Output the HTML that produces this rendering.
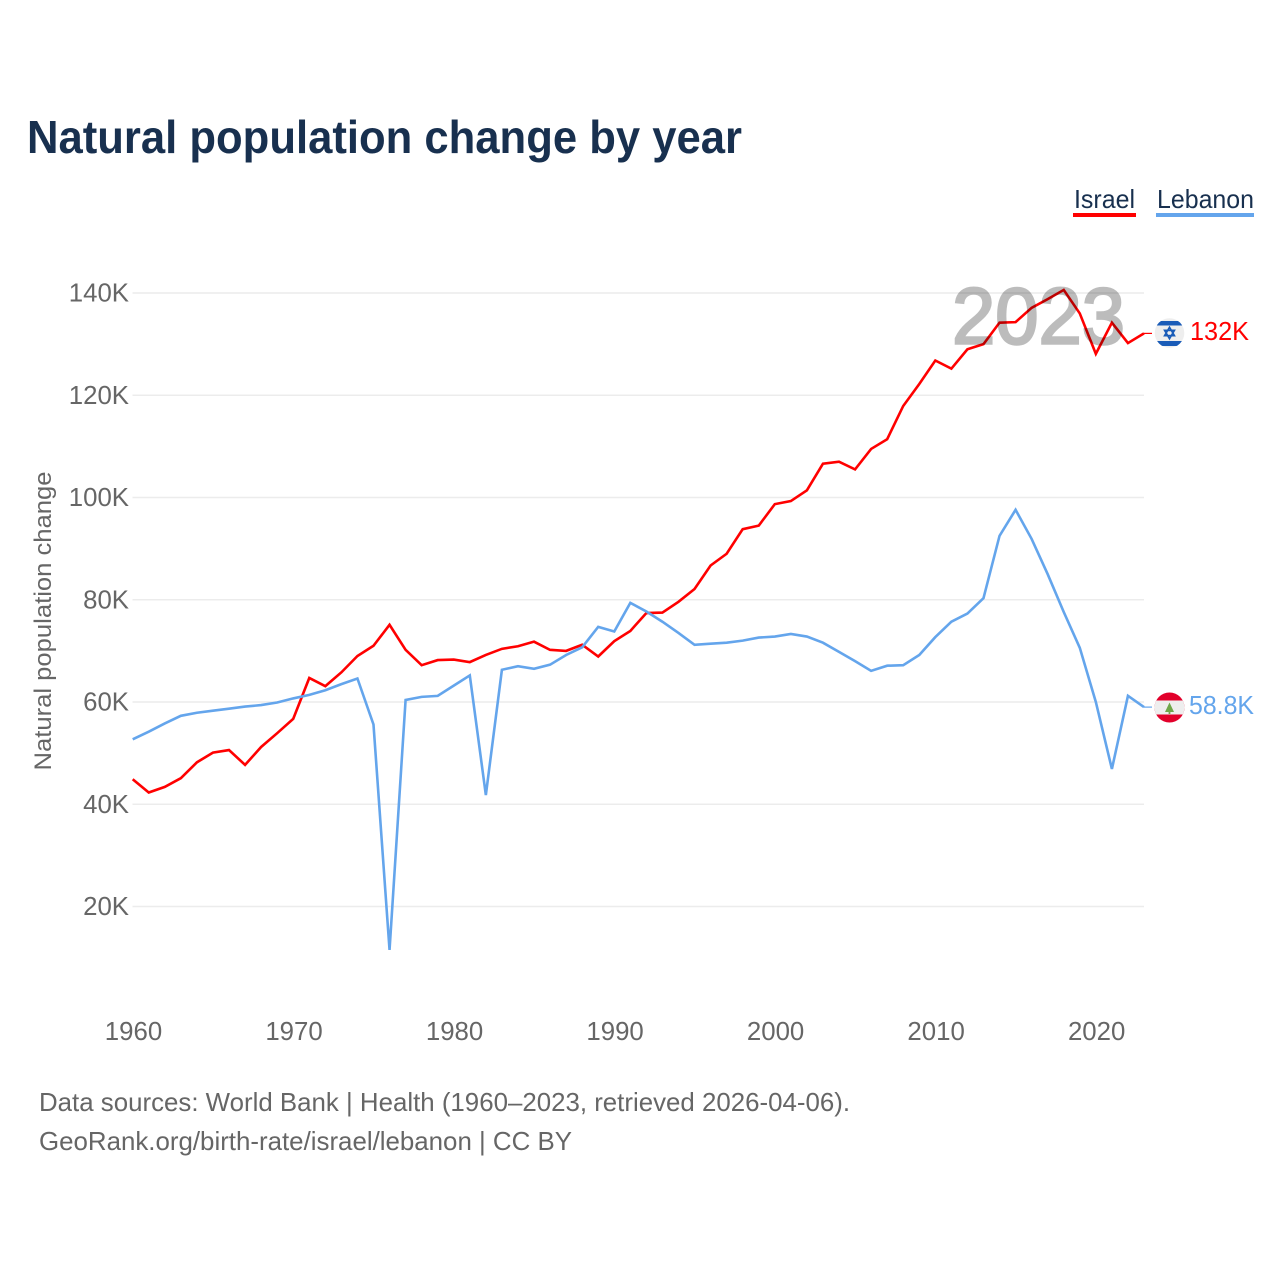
<!DOCTYPE html>
<html lang="en">
<head>
<meta charset="utf-8">
<title>Natural population change by year</title>
<style>
html,body{margin:0;padding:0;background:#fff;}
svg{display:block;}
text{font-family:"Liberation Sans",sans-serif;}
</style>
</head>
<body>
<svg id="chart" xmlns="http://www.w3.org/2000/svg" width="1280" height="1280" viewBox="0 0 1280 1280">
  <defs>
    <clipPath id="clip-il"><circle cx="1169.500" cy="333" r="14.800"/></clipPath>
    <clipPath id="clip-lb"><circle cx="1169.500" cy="707.500" r="15"/></clipPath>
  </defs>
  <rect width="1280" height="1280" fill="#fff"/>
  <text x="27" y="153" font-size="46" font-weight="700" fill="#18304f" textLength="715" lengthAdjust="spacingAndGlyphs">Natural population change by year</text>

  <g>
    <text x="1074" y="208" font-size="26" fill="#18304f" textLength="61" lengthAdjust="spacingAndGlyphs">Israel</text>
    <rect x="1073" y="213" width="63" height="4" fill="#ff0000"/>
    <text x="1157" y="208" font-size="26" fill="#18304f" textLength="97" lengthAdjust="spacingAndGlyphs">Lebanon</text>
    <rect x="1156" y="213" width="98" height="4" fill="#64a5ec"/>
  </g>

  <g id="grid"></g>
  <g id="yticks"></g>
  <g id="xticks"></g>
  <text transform="translate(51,621) rotate(-90)" text-anchor="middle" font-size="24.500" fill="#666" textLength="299" lengthAdjust="spacingAndGlyphs">Natural population change</text>
  <g id="series"></g>

  <text x="952" y="343.500" font-size="80" font-weight="400" fill="#000" stroke="#000" stroke-width="2.500" opacity="0.26" textLength="173" lengthAdjust="spacingAndGlyphs">2023</text>

  <g clip-path="url(#clip-il)">
    <rect x="1154" y="318" width="31" height="30" fill="#eeeeee"/>
    <rect x="1154" y="321" width="31" height="4.500" fill="#1a5cb8"/>
    <rect x="1154" y="341" width="31" height="5" fill="#1a5cb8"/>
    <path d="M1169.500 327.300l4.900 8.300h-9.800zM1169.500 338.700l4.900-8.300h-9.800z" fill="none" stroke="#1a5cb8" stroke-width="1.700"/>
  </g>
  <text id="value-israel" x="1190" y="340" font-size="26" fill="#ff0000" textLength="59" lengthAdjust="spacingAndGlyphs">132K</text>

  <g clip-path="url(#clip-lb)">
    <rect x="1154" y="692" width="31" height="32" fill="#e2002b"/>
    <rect x="1154" y="700.500" width="31" height="14" fill="#eeeeee"/>
    <path d="M1169.500 702.500l4.500 9.500h-3.600v2h-1.800v-2h-3.600z" fill="#6fa64a"/>
  </g>
  <text id="value-lebanon" x="1189" y="714" font-size="26" fill="#64a5ec" textLength="65" lengthAdjust="spacingAndGlyphs">58.8K</text>

  <g>
    <text x="39" y="1111" font-size="26" fill="#666" textLength="811" lengthAdjust="spacingAndGlyphs">Data sources: World Bank | Health (1960–2023, retrieved 2026-04-06).</text>
    <text x="39" y="1150" font-size="26" fill="#666" textLength="533" lengthAdjust="spacingAndGlyphs">GeoRank.org/birth-rate/israel/lebanon | CC BY</text>
  </g>
</svg>
<script>
const firstYear = 1960;
const lastYear = 2023;
const yTickValues = [20, 40, 60, 80, 100, 120, 140];
const yTickLabels = ["20K", "40K", "60K", "80K", "100K", "120K", "140K"];
const xTickYears = [1960, 1970, 1980, 1990, 2000, 2010, 2020];
const israelValues = [44.9,42.3,43.4,45.1,48.2,50.1,50.6,47.7,51.2,53.9,56.7,64.7,63.1,65.8,69.0,71.0,75.1,70.2,67.2,68.2,68.3,67.8,69.2,70.4,70.9,71.8,70.2,70.0,71.2,68.9,71.9,73.9,77.4,77.5,79.6,82.1,86.7,89.0,93.8,94.5,98.7,99.3,101.4,106.6,107.0,105.5,109.5,111.4,117.9,122.2,126.8,125.2,129.0,130.0,134.2,134.3,137.1,138.8,140.6,136.0,128.1,134.2,130.2,132.1];
const lebanonValues = [52.7,54.2,55.8,57.3,57.9,58.3,58.7,59.1,59.4,59.9,60.7,61.4,62.3,63.5,64.6,55.6,11.5,60.4,61.0,61.2,63.2,65.2,41.8,66.3,67.0,66.5,67.3,69.2,70.7,74.7,73.8,79.4,77.7,75.7,73.5,71.2,71.4,71.6,72.0,72.6,72.8,73.3,72.8,71.6,69.8,68.0,66.1,67.1,67.2,69.2,72.7,75.7,77.3,80.3,92.5,97.6,91.9,85.0,77.6,70.6,60.0,46.9,61.2,59.0];

const SVG_NS = "http://www.w3.org/2000/svg";
function xScale(year) {
  return 132.700 + (year - firstYear) * (1144 - 132.700) / (lastYear - firstYear);
}
function yScale(value) {
  return 1008.75 - value * 5.1125;
}
function make(tag, attrs) {
  const el = document.createElementNS(SVG_NS, tag);
  for (const key in attrs) el.setAttribute(key, attrs[key]);
  return el;
}

const grid = document.getElementById("grid");
const yticks = document.getElementById("yticks");
const xticks = document.getElementById("xticks");
const series = document.getElementById("series");

yTickValues.forEach(function (v, i) {
  const line = make("line", {x1: 132.500, x2: 1144, y1: yScale(v), y2: yScale(v), stroke: "#ececec", "stroke-width": 1.500});
  
  
  grid.appendChild(line);

  const label = make("text", {x: 129, y: yScale(v) + 8.500, "text-anchor": "end", "font-size": 25.800, fill: "#666"});
  
  
  label.textContent = yTickLabels[i];
  yticks.appendChild(label);
});

xTickYears.forEach(function (year) {
  const label = make("text", {x: xScale(year) + 0.800, y: 1040, "text-anchor": "middle", "font-size": 25.800, fill: "#666"});
  
  
  label.textContent = String(year);
  xticks.appendChild(label);
});

function drawSeries(values, color, lineName, leaderName) {
  const pts = values.map(function (v, i) {
    return xScale(firstYear + i).toFixed(2) + "," + yScale(v).toFixed(2);
  }).join(" ");
  const line = make("polyline", {points: pts, fill: "none", stroke: color, "stroke-width": 2.600, "stroke-linejoin": "miter"});
  
  
  series.appendChild(line);

  const endY = yScale(values[values.length - 1]);
  const leader = make("line", {x1: xScale(lastYear), x2: xScale(lastYear) + 8, y1: endY, y2: endY, stroke: color, "stroke-width": 1.200});
  
  
  series.appendChild(leader);
}

drawSeries(israelValues, "#ff0000", "line-israel", "leader-israel");
drawSeries(lebanonValues, "#64a5ec", "line-lebanon", "leader-lebanon");
</script>
</body>
</html>
